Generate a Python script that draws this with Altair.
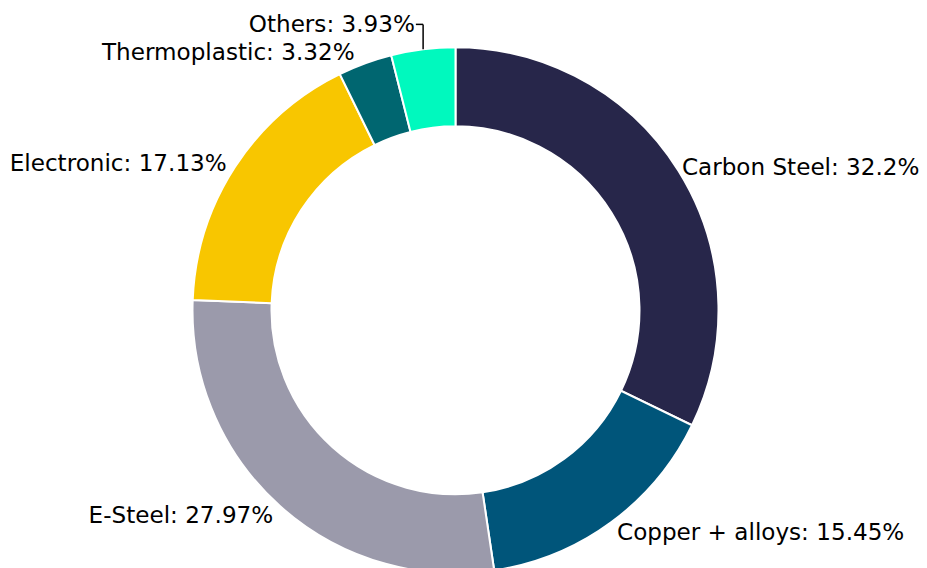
import altair as alt
import pandas as pd

categories = ["Carbon Steel", "Copper + alloys", "E-Steel", "Electronic", "Thermoplastic", "Others"]
shares = [32.2, 15.45, 27.97, 17.13, 3.32, 3.93]
colors = ["#27264a", "#00557a", "#9b9aab", "#f8c600", "#006670", "#00f9be"]

df = pd.DataFrame({
    "category": categories,
    "share": shares,
    "order": list(range(len(categories))),
    "label": [f"{c}: {s}%" for c, s in zip(categories, shares)],
})

# geometry (pixels)
CX, CY = 447.5, 302.3
R_OUT, R_IN = 263, 184
R_LAB = 273
FS = 23.1
FONT = "DejaVu Sans"
DY0 = 2.5

theta_scale = alt.Scale(domain=[0, 100])

base = alt.Chart(df).transform_window(
    cum="sum(share)", sort=[alt.SortField("order")]
).transform_calculate(
    mid="datum.cum - datum.share / 2"
)

arc = alt.Chart(df).mark_arc(
    outerRadius=R_OUT, innerRadius=R_IN, stroke="white", strokeWidth=2
).encode(
    theta=alt.Theta("share:Q", stack=True, scale=theta_scale),
    order=alt.Order("order:Q"),
    color=alt.Color("category:N", scale=alt.Scale(domain=categories, range=colors), legend=None),
    x=alt.value(CX),
    y=alt.value(CY),
)


def label_layer(filt, align, dx=0, dy=0):
    return base.transform_filter(filt).mark_text(
        align=align, baseline="middle", fontSize=FS, font=FONT, color="black", dx=dx, dy=dy
    ).encode(
        theta=alt.Theta("mid:Q", stack=False, scale=theta_scale),
        radius=alt.value(R_LAB),
        text="label:N",
        x=alt.value(CX),
        y=alt.value(CY),
    )


DX_O, DY_O = -7, -14.5
carbon = label_layer("datum.category == 'Carbon Steel'", "left", dx=-5, dy=DY0)
copper = label_layer("datum.category == 'Copper + alloys'", "left", dy=DY0)
left = label_layer("datum.mid >= 50 && datum.category != 'Thermoplastic' && datum.category != 'Others'", "right", dy=DY0)
thermo = label_layer("datum.category == 'Thermoplastic'", "right", dx=-7, dy=-1)
others = label_layer("datum.category == 'Others'", "right", dx=DX_O, dy=DY_O)

lead = base.transform_filter("datum.category == 'Others'").transform_calculate(
    a="datum.mid / 100 * 2 * PI"
).transform_calculate(
    ex=f"{CX} + {R_OUT} * sin(datum.a)",
    ey=f"{CY} - {R_OUT} * cos(datum.a)",
    ly=f"{CY} - {R_LAB} * cos(datum.a) + ({DY_O}) - 0.5",
    lx=f"{CX} + {R_LAB} * sin(datum.a) + ({DX_O}) + 1",
)
vrule = lead.mark_rule(color="black", strokeWidth=1.5).encode(
    x=alt.X("ex:Q", scale=None), y=alt.Y("ey:Q", scale=None), y2="ly:Q"
)
hrule = lead.mark_rule(color="black", strokeWidth=1.5).encode(
    x=alt.X("lx:Q", scale=None), x2="ex:Q", y=alt.Y("ly:Q", scale=None)
)

chart = alt.layer(arc, carbon, copper, left, thermo, others, vrule, hrule).properties(
    width=911, height=560, padding=0, autosize=alt.AutoSizeParams(type="none")
).configure_view(strokeWidth=0)

chart.save("out.html", embed_options={"renderer": "svg", "actions": False})
